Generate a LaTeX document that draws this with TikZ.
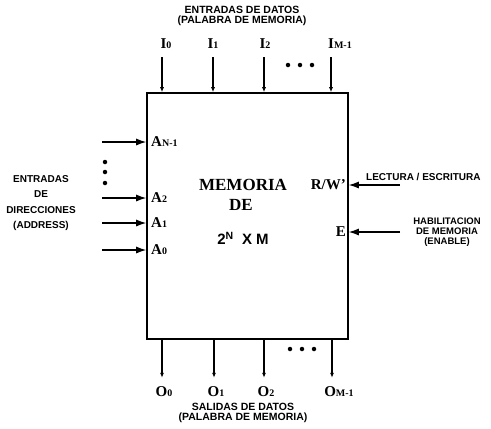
\documentclass[tikz,border=0pt]{standalone}
\usepackage{fontspec}
\setmainfont{Liberation Serif}
\setsansfont{Liberation Sans}
\usetikzlibrary{arrows.meta}
\newcommand\lbsub[2]{#1{\fontsize{10}{10}\selectfont #2}}
\begin{document}
\begin{tikzpicture}[x=1pt,y=-1pt,
  lbl/.style={font=\fontsize{15}{15}\selectfont\bfseries, inner sep=0pt},
  desc/.style={font=\sffamily\bfseries\fontsize{10.5}{10.5}\selectfont, align=center, inner sep=0pt},
  bigtip/.style={-{Latex[length=10pt,width=7pt]}, line width=1.2pt},
  smalltip/.style={-{Latex[length=5pt,width=4pt]}, line width=1.1pt},
  dot/.style={circle, fill=black, inner sep=0pt, minimum size=4.5pt}]
\useasboundingbox (0,0) rectangle (491,429);
% memory box
\node[draw, line width=1.6pt, minimum width=201pt, minimum height=246pt, inner sep=0pt] (mem) at (247.5,216) {};
% center text
\node[lbl, font=\fontsize{17}{17}\selectfont\bfseries] (t1) at (243,185) {MEMORIA};
\node[lbl, font=\fontsize{17}{17}\selectfont\bfseries] (t2) at (241,205) {DE};
\node[inner sep=0pt, font=\sffamily\bfseries\fontsize{15}{15}\selectfont] (t3) at (243,238) {2\textsuperscript{N}\ \ X M};
% top
\node[desc] (topd) at (242,16) {ENTRADAS DE DATOS\\(PALABRA DE MEMORIA)};
\node[lbl] (i0) at (166,44) {\lbsub{I}{0}};
\node[lbl] (i1) at (213,44) {\lbsub{I}{1}};
\node[lbl] (i2) at (265,44) {\lbsub{I}{2}};
\node[lbl] (im) at (340,44) {\lbsub{I}{M-1}};
\coordinate (i0s) at (162,57);
\coordinate (i1s) at (213,57);
\coordinate (i2s) at (264,57);
\coordinate (ims) at (331,57);
\foreach \n in {i0s,i1s,i2s,ims}{\draw[smalltip] (\n) -- (\n |- mem.north);}
\node[dot] (td1) at (288,65) {};
\node[dot] (td2) at (300,65) {};
\node[dot] (td3) at (312,65) {};
% bottom
\coordinate (o0s) at (162,0);
\coordinate (o1s) at (214,0);
\coordinate (o2s) at (264,0);
\coordinate (oms) at (332,0);
\foreach \n in {o0s,o1s,o2s,oms}{\draw[smalltip] (\n |- mem.south) -- ++(0,38);}
\node[lbl] (o0) at (164,392) {\lbsub{O}{0}};
\node[lbl] (o1) at (216,392) {\lbsub{O}{1}};
\node[lbl] (o2) at (266,392) {\lbsub{O}{2}};
\node[lbl] (om) at (339,392) {\lbsub{O}{M-1}};
\node[dot] (bd1) at (290,349) {};
\node[dot] (bd2) at (302,349) {};
\node[dot] (bd3) at (314,349) {};
\node[desc] (botd) at (243,413) {SALIDAS DE DATOS\\(PALABRA DE MEMORIA)};
% left
\node[lbl, anchor=west] (an) at (151,142) {\lbsub{A}{N-1}};
\node[lbl, anchor=west] (a2) at (151,198) {\lbsub{A}{2}};
\node[lbl, anchor=west] (a1) at (151,223) {\lbsub{A}{1}};
\node[lbl, anchor=west] (a0) at (151,250) {\lbsub{A}{0}};
\coordinate (ans) at (102,142);
\coordinate (a2s) at (102,198);
\coordinate (a1s) at (102,223);
\coordinate (a0s) at (102,250);
\foreach \n in {ans,a2s,a1s,a0s}{\draw[bigtip] (\n) -- (\n -| mem.west);}
\node[dot] (ld1) at (105,162) {};
\node[dot] (ld2) at (105,172) {};
\node[dot] (ld3) at (105,183) {};
\node[desc, font=\sffamily\bfseries\fontsize{10}{15.5}\selectfont] (leftd) at (41,203) {ENTRADAS\\DE\\DIRECCIONES\\(ADDRESS)};
% right
\node[lbl, anchor=east] (rw) at (346,185) {R/W\char"27};
\node[lbl, anchor=east] (en) at (346,232) {E};
\coordinate (rws) at (400,185);
\coordinate (ens) at (400,232);
\draw[bigtip] (rws) -- (rws -| mem.east);
\draw[bigtip] (ens) -- (ens -| mem.east);
\node[desc, anchor=west, font=\sffamily\bfseries\fontsize{10}{10}\selectfont] (rwd) at (366,177) {LECTURA / ESCRITURA};
\node[desc, font=\sffamily\bfseries\fontsize{9.5}{10}\selectfont] (end) at (447,232) {HABILITACION\\DE MEMORIA\\(ENABLE)};
\end{tikzpicture}
\end{document}
